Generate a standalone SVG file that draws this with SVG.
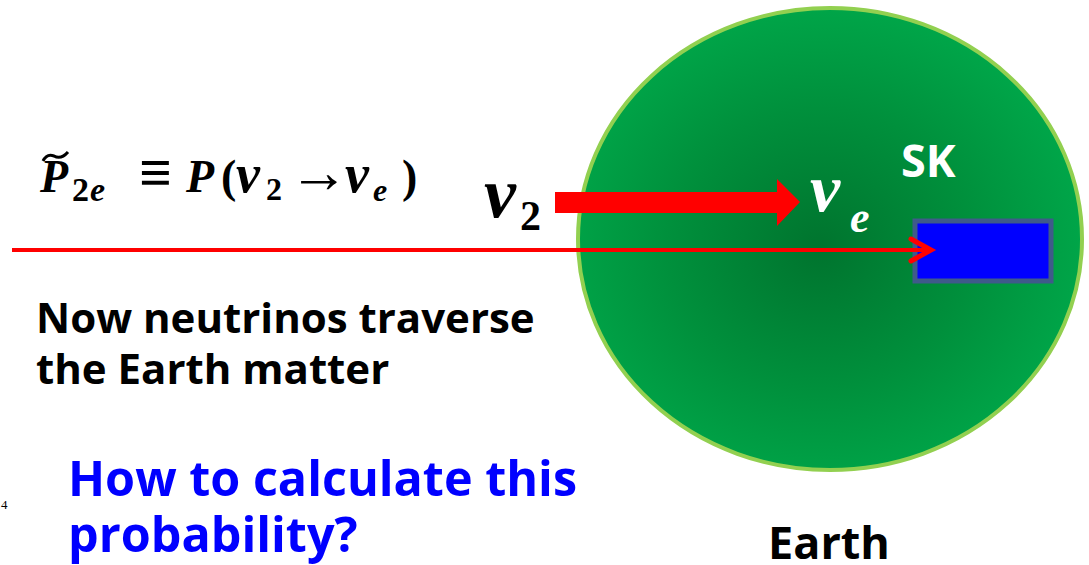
<svg xmlns="http://www.w3.org/2000/svg" width="1089" height="565" viewBox="0 0 1089 565">
  <style>
    .sans { font-family: "Open Sans", "Liberation Sans", sans-serif; font-weight: bold; }
    .math { font-family: "Liberation Serif", "DejaVu Serif", serif; font-weight: bold; font-style: italic; }
    .up { font-style: normal; }
  </style>
  <defs>
    <radialGradient id="earthFill" cx="0.48" cy="0.52" r="0.55">
      <stop offset="0" stop-color="#00742E"/>
      <stop offset="0.55" stop-color="#00903C"/>
      <stop offset="1" stop-color="#00A84A"/>
    </radialGradient>
  </defs>

  <rect width="1089" height="565" fill="#FFFFFF"/>

  <!-- Earth -->
  <g id="earth">
    <ellipse cx="830" cy="239" rx="252" ry="231" fill="url(#earthFill)" stroke="#92D050" stroke-width="4"/>
    <text class="sans" x="768" y="559" font-size="45" fill="#000000">Earth</text>
  </g>

  <!-- detector -->
  <g id="sk">
    <rect x="915" y="221" width="136" height="60" fill="#0000FF" stroke="#3F5A8A" stroke-width="5"/>
    <text class="sans" x="901" y="177" font-size="45" fill="#FFFFFF">SK</text>
  </g>

  <!-- connectors -->
  <g id="connectors">
    <line x1="12" y1="250" x2="930" y2="250" stroke="#FF0000" stroke-width="4"/>
    <polyline points="911,239 931,250 911,261" fill="none" stroke="#FF0000" stroke-width="5" stroke-linecap="round" stroke-linejoin="miter"/>
    <polygon points="555,192 777,192 777,179 800,202 777,226 777,213 555,213" fill="#FF0000"/>
  </g>

  <!-- flavour labels -->
  <g id="nu2">
    <text class="math" x="484" y="217" font-size="72" fill="#000000">ν</text>
    <text class="math up" x="520" y="230" font-size="42" fill="#000000">2</text>
  </g>
  <g id="nue">
    <text class="math" x="810" y="211" font-size="68" fill="#FFFFFF">ν</text>
    <text class="math" x="850" y="232" font-size="44" fill="#FFFFFF">e</text>
  </g>

  <!-- probability definition -->
  <g id="formula" fill="#000000">
    <text class="math" x="40" y="192" font-size="46">P</text>
    <text class="math up" x="72" y="201" font-size="34">2</text>
    <text class="math" x="90" y="201" font-size="34">e</text>
    <text class="math up" x="139" y="192" font-size="58">≡</text>
    <text class="math" x="186" y="192" font-size="46">P</text>
    <text class="math up" x="221" y="192" font-size="46">(</text>
    <text class="math" x="236" y="192" font-size="54">ν</text>
    <text class="math up" x="266" y="200" font-size="32">2</text>
    <text class="math up" x="289" y="192" font-size="60">→</text>
    <text class="math" x="345" y="192" font-size="54">ν</text>
    <text class="math" x="373" y="201" font-size="32">e</text>
    <text class="math up" x="402" y="192" font-size="46">)</text>
    <path d="M43,161 Q47,153 54,156 Q61,160 68,152" fill="none" stroke="#000000" stroke-width="3"/>
  </g>

  <g id="statement">
    <text class="sans" x="36" y="333" font-size="42" fill="#000000">Now neutrinos traverse</text>
    <text class="sans" x="36" y="384" font-size="42" fill="#000000">the Earth matter</text>
  </g>

  <g id="question">
    <text class="sans" x="68" y="496" font-size="48.5" fill="#0000FF">How to calculate this</text>
    <text class="sans" x="68" y="552" font-size="48.5" fill="#0000FF">probability?</text>
  </g>

  <text x="1" y="509" font-family="Liberation Serif, serif" font-size="13" fill="#000000">4</text>
</svg>
